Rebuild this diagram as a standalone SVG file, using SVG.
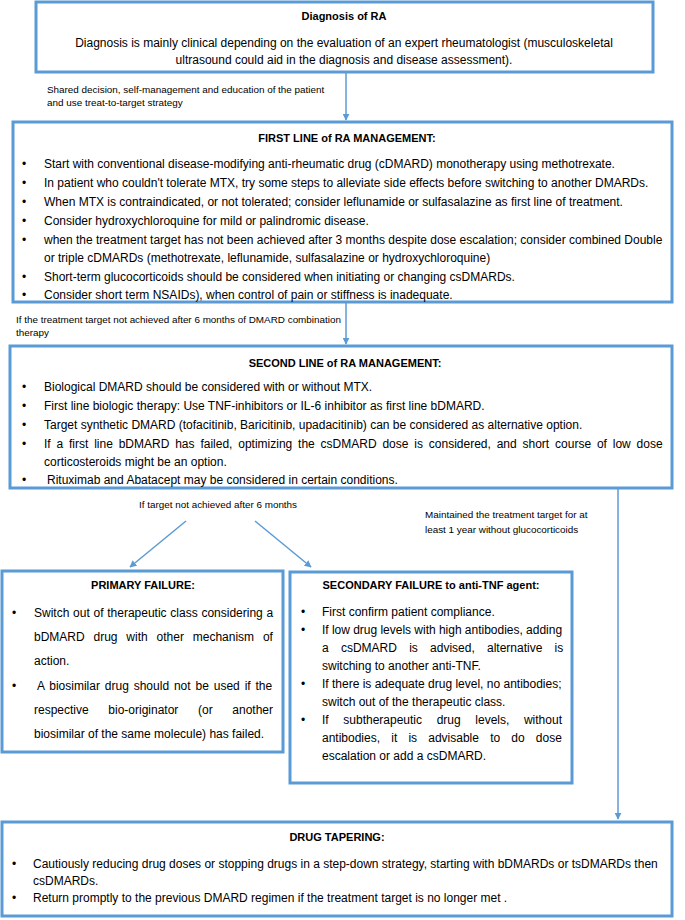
<svg xmlns="http://www.w3.org/2000/svg" width="685" height="920" viewBox="0 0 685 920">
<defs>
<marker id="ah" viewBox="0 0 10 10" refX="9" refY="5" markerWidth="7" markerHeight="7" orient="auto" markerUnits="userSpaceOnUse">
<path d="M0,0 L10,5 L0,10 z" fill="#5B9BD5"/>
</marker>
<style>
.box{fill:#fff;stroke:#5B9BD5;stroke-width:3}
.t{font-family:"Liberation Sans",Arial,sans-serif;font-size:12px;fill:#000}
.h{font-family:"Liberation Sans",Arial,sans-serif;font-size:11px;font-weight:bold;fill:#000;text-anchor:middle}
.s{font-family:"Liberation Sans",Arial,sans-serif;font-size:9.9px;fill:#000}
.b{font-family:"Liberation Sans",Arial,sans-serif;font-size:12px;fill:#000}
.c{stroke:#5B9BD5;stroke-width:1.5;fill:none;marker-end:url(#ah)}
</style>
</defs>
<rect width="685" height="920" fill="#fff"/>

<g id="connectors">
<line class="c" x1="346" y1="72" x2="346" y2="120"/>
<line class="c" x1="346" y1="302" x2="346" y2="344"/>
<line class="c" x1="186" y1="521" x2="130" y2="567"/>
<line class="c" x1="255" y1="521" x2="311" y2="567"/>
<line class="c" x1="618" y1="488" x2="618" y2="819"/>
<text class="s" x="47" y="93">Shared decision, self-management and education of the patient</text>
<text class="s" x="47" y="106">and use treat-to-target strategy</text>
<text class="s" x="16" y="323">If the treatment target not achieved after 6 months of DMARD combination</text>
<text class="s" x="16" y="336">therapy</text>
<text class="s" x="218" y="508" text-anchor="middle">If target not achieved after 6 months</text>
<text class="s" x="425" y="518">Maintained the treatment target for at</text>
<text class="s" x="425" y="533">least 1 year without glucocorticoids</text>
</g>

<g id="diagnosis">
<rect class="box" x="36" y="2" width="617" height="70"/>
<text class="h" x="344" y="20">Diagnosis of RA</text>
<text class="t" x="344" y="47" text-anchor="middle">Diagnosis is mainly clinical depending on the evaluation of an expert rheumatologist (musculoskeletal</text>
<text class="t" x="344" y="64" text-anchor="middle">ultrasound could aid in the diagnosis and disease assessment).</text>
</g>

<g id="first-line">
<rect class="box" x="13" y="122" width="659" height="180"/>
<text class="h" x="347" y="142">FIRST LINE of RA MANAGEMENT:</text>
<g class="b">
<text x="22" y="168">•</text><text x="44" y="168">Start with conventional disease-modifying anti-rheumatic drug (cDMARD) monotherapy using methotrexate.</text>
<text x="22" y="187">•</text><text x="44" y="187">In patient who couldn't tolerate MTX, try some steps to alleviate side effects before switching to another DMARDs.</text>
<text x="22" y="206">•</text><text x="44" y="206">When MTX is contraindicated, or not tolerated; consider leflunamide or sulfasalazine as first line of treatment.</text>
<text x="22" y="225">•</text><text x="44" y="225">Consider hydroxychloroquine for mild or palindromic disease.</text>
<text x="22" y="244">•</text><text x="44" y="244">when the treatment target has not been achieved after 3 months despite dose escalation; consider combined Double</text>
<text x="44" y="262">or triple cDMARDs (methotrexate, leflunamide, sulfasalazine or hydroxychloroquine)</text>
<text x="22" y="281">•</text><text x="44" y="281">Short-term glucocorticoids should be considered when initiating or changing csDMARDs.</text>
<text x="22" y="299">•</text><text x="44" y="299">Consider short term NSAIDs), when control of pain or stiffness is inadequate.</text>
</g>
</g>

<g id="second-line">
<rect class="box" x="10" y="346" width="662" height="142"/>
<text class="h" x="345" y="367">SECOND LINE of RA MANAGEMENT:</text>
<g class="b">
<text x="22" y="391">•</text><text x="44" y="391">Biological DMARD should be considered with or without MTX.</text>
<text x="22" y="410">•</text><text x="44" y="410">First line biologic therapy: Use TNF-inhibitors or IL-6 inhibitor as first line bDMARD.</text>
<text x="22" y="429">•</text><text x="44" y="429">Target synthetic DMARD (tofacitinib, Baricitinib, upadacitinib) can be considered as alternative option.</text>
<text x="22" y="448">•</text><text x="44" y="448" word-spacing="2.5">If a first line bDMARD has failed, optimizing the csDMARD dose is considered, and short course of low dose</text>
<text x="44" y="466">corticosteroids might be an option.</text>
<text x="22" y="484">•</text><text x="47" y="484">Rituximab and Abatacept may be considered in certain conditions.</text>
</g>
</g>

<g id="primary-failure">
<rect class="box" x="2" y="571" width="281" height="181"/>
<text class="h" x="143" y="589">PRIMARY FAILURE:</text>
<g class="b">
<text x="12" y="617">•</text><text x="34" y="617" word-spacing="0.4">Switch out of therapeutic class considering a</text>
<text x="34" y="641" word-spacing="5.5">bDMARD drug with other mechanism of</text>
<text x="34" y="665">action.</text>
<text x="12" y="690">•</text><text x="37" y="690" word-spacing="1.55">A biosimilar drug should not be used if the</text>
<text x="34" y="714" word-spacing="16.3">respective bio-originator (or another</text>
<text x="34" y="738">biosimilar of the same molecule) has failed.</text>
</g>
</g>

<g id="secondary-failure">
<rect class="box" x="290" y="572" width="282" height="211"/>
<text class="h" x="431" y="589">SECONDARY FAILURE to anti-TNF agent:</text>
<g class="b">
<text x="301" y="616">•</text><text x="322" y="616">First confirm patient compliance.</text>
<text x="301" y="634">•</text><text x="322" y="634" word-spacing="-0.1">If low drug levels with high antibodies, adding</text>
<text x="322" y="652" word-spacing="8.9">a csDMARD is advised, alternative is</text>
<text x="322" y="670">switching to another anti-TNF.</text>
<text x="301" y="688">•</text><text x="322" y="688">If there is adequate drug level, no antibodies;</text>
<text x="322" y="706">switch out of the therapeutic class.</text>
<text x="301" y="724">•</text><text x="322" y="724" word-spacing="11.3">If subtherapeutic drug levels, without</text>
<text x="322" y="742" word-spacing="7.85">antibodies, it is advisable to do dose</text>
<text x="322" y="760">escalation or add a csDMARD.</text>
</g>
</g>

<g id="drug-tapering">
<rect class="box" x="2" y="822" width="670" height="94"/>
<text class="h" x="337" y="841">DRUG TAPERING:</text>
<g class="b">
<text x="12" y="868">•</text><text x="33" y="868">Cautiously reducing drug doses or stopping drugs in a step-down strategy, starting with bDMARDs or tsDMARDs then</text>
<text x="33" y="885">csDMARDs.</text>
<text x="12" y="902">•</text><text x="33" y="902">Return promptly to the previous DMARD regimen if the treatment target is no longer met .</text>
</g>
</g>
</svg>
